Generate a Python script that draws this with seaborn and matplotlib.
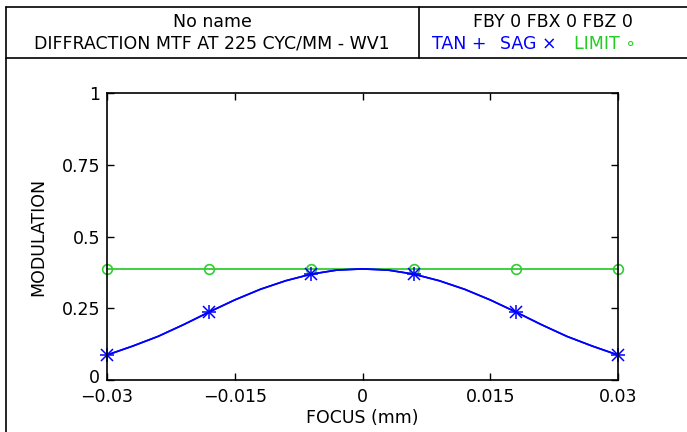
import numpy as np
import pandas as pd
import seaborn as sns
import matplotlib
matplotlib.use("Agg")
import matplotlib.pyplot as plt
import matplotlib.transforms as mtransforms
from matplotlib.lines import Line2D

# focus positions (mm) and MTF
focus = [-0.030, -0.027, -0.024, -0.021, -0.018, -0.015, -0.012, -0.009, -0.006, -0.003,
         0.000, 0.003, 0.006, 0.009, 0.012, 0.015, 0.018, 0.021, 0.024, 0.027, 0.030]
tan_mtf = [0.087, 0.118, 0.152, 0.193, 0.237, 0.279, 0.316, 0.346, 0.369, 0.383,
           0.387, 0.383, 0.369, 0.346, 0.316, 0.279, 0.237, 0.193, 0.152, 0.118, 0.087]
sag_mtf = list(tan_mtf)
limit_mtf = [0.387] * len(focus)
marker_idx = [0, 4, 8, 12, 16, 20]

xticks = [-0.03, -0.015, 0, 0.015, 0.03]
xtick_labels = ["\u22120.03", "\u22120.015", "0", "0.015", "0.03"]
yticks = [0, 0.25, 0.5, 0.75, 1]
ytick_labels = ["0", "0.25", "0.5", "0.75", "1"]

df = pd.DataFrame({"focus": focus, "TAN": tan_mtf, "SAG": sag_mtf, "LIMIT": limit_mtf})

sns.set_style("ticks")
plt.rcParams["font.family"] = ["DejaVu Sans"]
plt.rcParams["text.color"] = "black"
plt.rcParams["axes.labelcolor"] = "black"

blue = "#0000ff"
green = "#33cc33"

fig = plt.figure(figsize=(6.87, 4.32), dpi=100)
ax = fig.add_axes([107 / 687, 52 / 432, 511 / 687, 287 / 432])

sns.lineplot(data=df, x="focus", y="LIMIT", ax=ax, color=green, lw=1.3,
             marker="o", markevery=marker_idx, markersize=7, markerfacecolor="none",
             markeredgecolor=green, markeredgewidth=1.2)
sns.lineplot(data=df, x="focus", y="TAN", ax=ax, color=blue, lw=1.2,
             marker="+", markevery=marker_idx, markersize=10,
             markeredgecolor=blue, markeredgewidth=1.1)
sns.lineplot(data=df, x="focus", y="SAG", ax=ax, color=blue, lw=1.2,
             marker="x", markevery=marker_idx, markersize=8,
             markeredgecolor=blue, markeredgewidth=1.1)

ax.set_xlim(-0.03, 0.03)
ax.set_ylim(0, 1)
ax.set_xticks(xticks)
ax.set_xticklabels(xtick_labels)
ax.set_yticks(yticks)
ax.set_yticklabels(ytick_labels)
ax.tick_params(direction="in", length=5, width=1, top=True, right=True,
               labelsize=12.5, colors="black", pad=5)
ax.tick_params(axis="x", pad=6)
for s in ax.spines.values():
    s.set_linewidth(1.2)
    s.set_color("black")
for m in ax.lines:
    m.set_clip_on(False)
# lift the "0" y label a little, as in the reference
lbl0 = ax.get_yticklabels()[0]
lbl0.set_transform(lbl0.get_transform() + mtransforms.ScaledTranslation(0, 4 / 100, fig.dpi_scale_trans))
ax.set_xlabel("FOCUS (mm)", fontsize=12.5, labelpad=2)
ax.set_ylabel("MODULATION", fontsize=12.5, labelpad=10)

# header box
fig.add_artist(Line2D([6 / 687, 1], [1 - 7 / 432, 1 - 7 / 432], color="black", lw=1.2))
fig.add_artist(Line2D([6 / 687, 1], [1 - 58 / 432, 1 - 58 / 432], color="black", lw=1.2))
fig.add_artist(Line2D([6 / 687, 6 / 687], [0, 1 - 7 / 432], color="black", lw=1.2))
fig.add_artist(Line2D([419 / 687, 419 / 687], [1 - 58 / 432, 1 - 7 / 432], color="black", lw=1.2))

fs = 12.5
fig.text(212 / 687, 1 - 22 / 432, "No name", ha="center", va="center", fontsize=fs)
fig.text(212 / 687, 1 - 44 / 432, "DIFFRACTION MTF AT 225 CYC/MM - WV1",
         ha="center", va="center", fontsize=fs)
fig.text(553 / 687, 1 - 22 / 432, "FBY 0 FBX 0 FBZ 0", ha="center", va="center", fontsize=fs)
fig.text(432 / 687, 1 - 44 / 432, "TAN +", ha="left", va="center", fontsize=fs, color=blue)
fig.text(500 / 687, 1 - 44 / 432, "SAG \u00d7", ha="left", va="center", fontsize=fs, color=blue)
fig.text(574 / 687, 1 - 44 / 432, "LIMIT \u2218", ha="left", va="center", fontsize=fs, color="#22cc22")

fig.savefig("out.png", dpi=100)
